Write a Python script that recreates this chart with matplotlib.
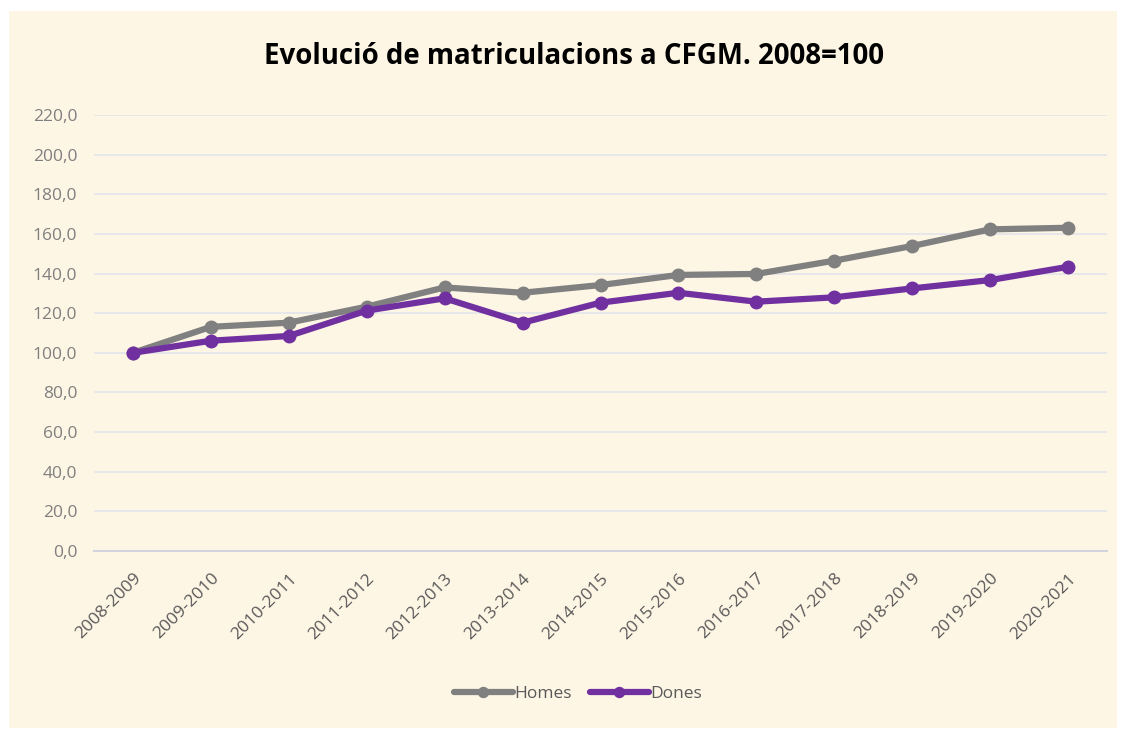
#!/usr/bin/env python3

import matplotlib
matplotlib.use('Agg')
import matplotlib.pyplot as plt
from matplotlib.patches import Rectangle

cursos = ['2008-2009', '2009-2010', '2010-2011', '2011-2012', '2012-2013',
          '2013-2014', '2014-2015', '2015-2016', '2016-2017', '2017-2018',
          '2018-2019', '2019-2020', '2020-2021']
homes = [100.0, 113.1, 115.2, 123.3, 133.0, 130.3, 134.2, 139.3, 139.8,
         146.5, 153.9, 162.3, 163.1]
dones = [100.0, 106.1, 108.5, 121.3, 127.5, 115.2, 125.3, 130.3, 125.8,
         128.0, 132.5, 136.7, 143.4]
yticks = list(range(0, 221, 20))

W, H = 1128, 729
BG = '#FEF6E5'
GRAY = '#808080'
PURPLE = '#7030A0'
TXT = '#7F7F7F'

plt.rcParams['font.family'] = ['Open Sans', 'DejaVu Sans']

fig = plt.figure(figsize=(W / 100, H / 100), dpi=100)
fig.patch.set_facecolor('white')
fig.add_artist(Rectangle((9 / W, 1 - 728 / H), (1117 - 9) / W, (728 - 11) / H,
                         transform=fig.transFigure, facecolor=BG,
                         edgecolor='none', zorder=0))

ax = fig.add_axes([94 / W, 1 - 551 / H, (1107 - 94) / W, (551 - 115) / H])
ax.patch.set_alpha(0)

x = range(len(cursos))
ax.plot(x, homes, color=GRAY, lw=4.5, marker='o', ms=9, label='Homes',
        solid_capstyle='round', zorder=3)
ax.plot(x, dones, color=PURPLE, lw=4.5, marker='o', ms=9, label='Dones',
        solid_capstyle='round', zorder=4)

ax.set_xlim(-0.5, len(cursos) - 0.5)
ax.set_ylim(0, 220)
ax.set_yticks(yticks)
ax.set_yticklabels([f'{v},0' for v in yticks], color=TXT, fontsize=12.5)
ax.set_xticks(list(x))
ax.set_xticklabels(cursos, rotation=45, ha='right', rotation_mode='anchor',
                   color='#595959', fontsize=12.5)
ax.tick_params(axis='y', length=0, pad=12)
ax.tick_params(axis='x', length=0, pad=14)

ax.grid(axis='y', color='#E3E3EA', lw=1.2)
ax.set_axisbelow(True)
for s in ['top', 'right', 'left']:
    ax.spines[s].set_visible(False)
ax.spines['bottom'].set_color('#D2D4DC')
ax.spines['bottom'].set_linewidth(1.5)

fig.text(574 / W, 1 - 57 / H, 'Evolució de matriculacions a CFGM. 2008=100',
         ha='center', va='center', fontsize=19.9, fontweight='bold',
         color='black')

fig.legend(loc='center', bbox_to_anchor=(578 / W, 1 - 694 / H), ncol=2,
           frameon=False, fontsize=12.5, labelcolor='#595959',
           handlelength=3.4, handletextpad=0.1, columnspacing=1.0,
           markerscale=0.8)

fig.savefig('out.png', dpi=100, facecolor='white')
